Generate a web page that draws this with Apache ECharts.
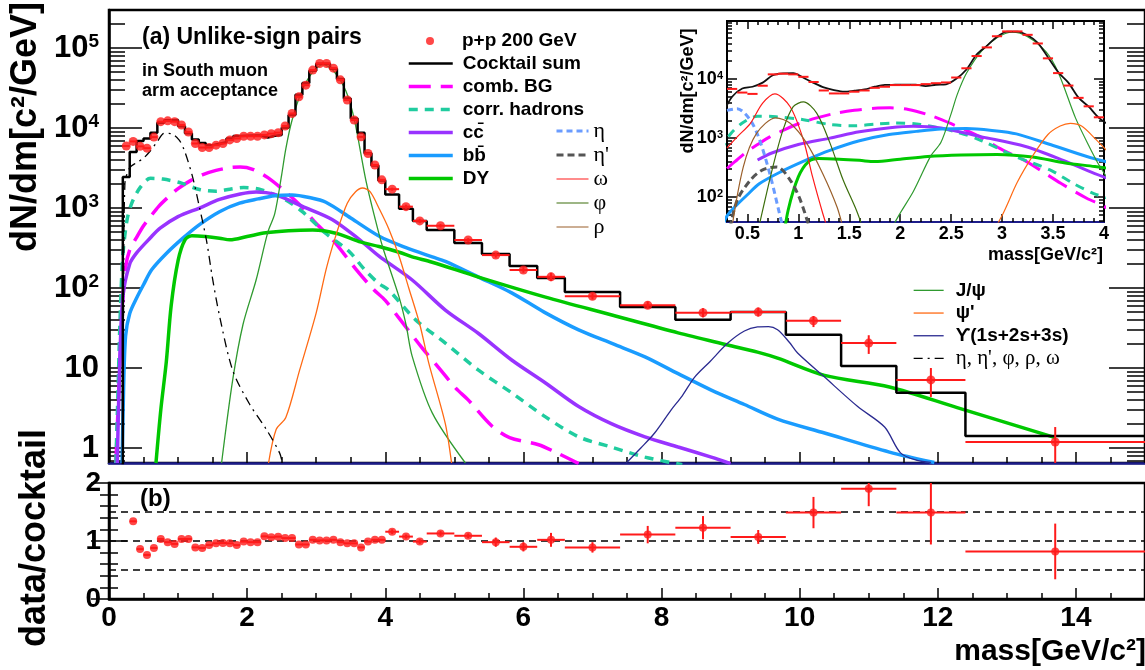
<!DOCTYPE html>
<html>
<head>
<meta charset="utf-8">
<script src="https://cdn.jsdelivr.net/npm/echarts@6/dist/echarts.min.js"></script>
<style>
  html, body { margin: 0; padding: 0; background: #fff; }
  #chart { width: 1145px; height: 670px; }
</style>
</head>
<body>
<div id="chart"></div>
<script>
// ---------------- measured dimuon yield, unlike-sign pairs, p+p 200 GeV ----------------
// mass bin edges [GeV/c^2]
const binEdges = [
  0.2, 0.3, 0.4, 0.5, 0.6, 0.7, 0.8, 0.9, 1.0, 1.1, 1.2, 1.3, 1.4, 1.5, 1.6, 1.7, 1.8, 1.9, 2.0,
  2.1, 2.2, 2.3, 2.4, 2.5, 2.6, 2.7, 2.8, 2.9, 3.0, 3.1, 3.2, 3.3, 3.4, 3.5, 3.6, 3.7, 3.8, 3.9, 4.0,
  4.2, 4.4, 4.6, 5.0, 5.4, 5.8, 6.2, 6.6, 7.4, 8.2, 9.0, 9.8, 10.6, 11.4, 12.4, 15.0
];
// dN/dm of the data, one value per bin
const yieldData = [
  5960, 6800, 5900, 5600, 7700, 12000, 12300, 12000, 10900, 8900,
  6400, 5700, 5700, 6100, 6400, 7100, 7400, 7900, 7900, 7900,
  8200, 8500, 8750, 10600, 15200, 24500, 34300, 53000, 64000, 64000,
  56000, 40000, 22400, 12600, 7750, 4800, 3450, 2250,
  1720, 1040, 690, 600, 398, 258, 168, 138, 79, 61, 49, 50, 39, 20.5, 7.1, 1.19
];
const yieldErrDown = [
  0, 0, 0, 0, 0, 0, 0, 0, 0, 0, 0, 0, 0, 0, 0, 0, 0, 0, 0, 0,
  0, 0, 0, 0, 0, 0, 0, 0, 0, 0, 0, 0, 0, 0, 0, 0, 0, 0,
  70, 60, 45, 30, 22, 18, 13, 16, 7, 6, 6, 6, 6.5, 5.5, 2.75, 1.1
];
const yieldErrUp = [
  0, 0, 0, 0, 0, 0, 0, 0, 0, 0, 0, 0, 0, 0, 0, 0, 0, 0, 0, 0,
  0, 0, 0, 0, 0, 0, 0, 0, 0, 0, 0, 0, 0, 0, 0, 0, 0, 0,
  75, 60, 45, 30, 22, 20, 14, 17, 7, 7, 7, 7, 5.7, 5.2, 2.9, 0.64
];
// cocktail sum per bin
const cocktailSum = [
  2450, 5000, 6900, 7400, 8700, 11600, 12500, 12600, 10500, 8600,
  7200, 6500, 6100, 6350, 6650, 7400, 7950, 8000, 8050, 8050,
  7600, 8000, 8150, 10100, 14500, 26000, 36500, 52000, 63500, 63500,
  55000, 41000, 23300, 13100, 8700, 4850, 3400, 2200,
  1480, 980, 690, 530, 365, 266, 188, 133, 89, 58, 40, 50, 26, 10.6, 4.9, 1.41
];
// data / cocktail per bin
const ratioData = [
  2.43, 1.34, 0.86, 0.76, 0.88, 1.035, 0.98, 0.95, 1.035, 1.035,
  0.89, 0.88, 0.93, 0.96, 0.965, 0.96, 0.93, 0.99, 0.98, 0.98,
  1.08, 1.065, 1.075, 1.05, 1.05, 0.94, 0.94, 1.02, 1.01, 1.01,
  1.02, 0.98, 0.96, 0.96, 0.89, 0.99, 1.02, 1.02,
  1.16, 1.076, 0.99, 1.13, 1.09, 0.98, 0.90, 1.02, 0.89, 1.11, 1.23, 1.07, 1.49, 1.90, 1.49, 0.82
];
const ratioErr = [
  0, 0, 0, 0, 0, 0, 0, 0, 0, 0, 0, 0, 0, 0, 0, 0, 0, 0, 0, 0,
  0, 0, 0, 0, 0, 0, 0, 0, 0, 0, 0, 0, 0, 0, 0, 0, 0, 0,
  0.04, 0.035, 0.04, 0.04, 0.04, 0.08, 0.08, 0.12, 0.09, 0.15, 0.2, 0.12, 0.27, 0.30, 0.55, 0.48
];

// ---------------- cocktail components, [mass, dN/dm] ----------------
const combBG = [[0.1,0.65],[0.13,3],[0.17,20],[0.2,70],[0.24,180],[0.3,300],[0.4,430],[0.5,600],[0.6,780],[0.72,1050],[0.85,1350],[1.0,1750],[1.18,2200],[1.35,2600],[1.55,2950],[1.75,3200],[1.9,3250],[2.08,3050],[2.3,2400],[2.5,1750],[2.76,1100],[3.0,640],[3.24,400],[3.58,170],[3.83,96],[4.0,70],[4.2,42],[4.53,18],[4.8,9.5],[5.02,5.6],[5.2,4],[5.54,1.9],[5.8,1.35],[6.22,1.1],[6.45,0.9],[6.8,0.64]];
const corrHadrons = [[0.1,0.65],[0.13,5],[0.16,40],[0.2,250],[0.26,700],[0.33,1150],[0.45,1800],[0.6,2350],[0.78,2300],[1.05,2050],[1.31,1700],[1.55,1620],[1.75,1720],[1.95,1800],[2.2,1700],[2.56,1260],[2.8,900],[3.14,480],[3.47,290],[3.7,170],[3.9,115],[4.05,94],[4.44,40],[4.87,20.5],[5.35,9.4],[5.83,4.9],[6.32,2.45],[6.8,1.38],[7.27,1.03],[7.76,0.77],[8.3,0.62]];
const ccbar = [[0.12,0.65],[0.15,8],[0.2,77],[0.3,200],[0.4,275],[0.6,425],[0.74,560],[1.0,780],[1.31,1000],[1.6,1280],[1.9,1500],[2.13,1590],[2.4,1480],[2.8,1050],[3.23,720],[3.6,420],[3.91,250],[4.39,126],[4.87,53],[5.35,27],[5.83,12.6],[6.32,6.5],[6.8,3.3],[7.28,2.0],[7.76,1.38],[8.24,1.03],[8.72,0.77],[9.0,0.64]];
const bbbar = [[0.19,0.65],[0.21,5],[0.24,25],[0.3,48],[0.4,75],[0.5,110],[0.62,170],[0.83,270],[1.07,420],[1.31,620],[1.6,900],[1.89,1150],[2.16,1300],[2.4,1420],[2.65,1450],[2.9,1350],[3.14,1180],[3.5,750],[3.92,440],[4.3,320],[4.68,245],[4.87,215],[5.35,137],[5.83,87],[6.3,50],[6.8,30],[7.3,20],[7.76,13.8],[8.24,8.5],[8.72,5.3],[9.2,3.5],[9.68,2.3],[10.36,1.54],[11.3,0.89],[11.95,0.66]];
const drellYan = [[0.68,0.65],[0.75,3],[0.83,12],[0.9,60],[1.0,220],[1.1,400],[1.2,450],[1.4,440],[1.6,420],[1.75,400],[2.0,440],[2.27,490],[2.6,520],[2.95,530],[3.3,480],[3.62,380],[3.91,330],[4.2,280],[4.39,245],[4.68,210],[5.35,137],[6.32,77],[7.28,46],[8.24,27.5],[8.96,19.4],[9.39,15.8],[9.68,13.3],[10.36,8.1],[11.3,5.8],[12.28,3.2],[13.7,1.35]];
const jpsi = [[1.63,0.65],[1.79,7],[1.94,35],[2.13,126],[2.3,500],[2.4,850],[2.5,2600],[2.56,5500],[2.65,12500],[2.8,30000],[2.95,50000],[3.1,62000],[3.25,52000],[3.43,29000],[3.55,13000],[3.72,2200],[3.85,750],[3.96,330],[4.2,77],[4.3,35],[4.39,14],[4.68,2.75],[5.16,0.65]];
const psiPrime = [[2.31,0.65],[2.42,1.7],[2.56,2.4],[2.76,9.4],[3.0,49],[3.15,180],[3.3,500],[3.45,1150],[3.57,1600],[3.67,1780],[3.78,1600],[3.92,950],[4.05,550],[4.2,250],[4.34,100],[4.5,35],[4.63,11.5],[4.87,2.0],[4.96,0.65]];
const upsilon = [[7.49,0.65],[7.7,1.0],[7.9,1.54],[8.14,3.0],[8.3,4.5],[8.48,7.7],[8.7,12],[8.96,20.5],[9.2,29],[9.39,32.6],[9.55,33],[9.68,30],[9.85,21],[9.97,15.4],[10.36,7.7],[10.84,3.3],[11.23,1.83],[11.46,0.87],[11.7,0.7],[11.9,0.66]];
const lightMesons = [[0.2,0.65],[0.21,50],[0.23,2000],[0.3,3200],[0.4,3700],[0.5,4200],[0.6,5200],[0.7,6800],[0.8,8600],[0.9,8500],[1.02,7000],[1.1,5000],[1.21,2450],[1.31,1020],[1.41,400],[1.5,130],[1.6,45],[1.79,9.4],[2.03,3.6],[2.28,1.7],[2.47,0.87],[2.51,0.65]];
// individual light mesons (low-mass view)
const eta = [[0.3,2950],[0.4,3150],[0.53,2000],[0.62,930],[0.72,250],[0.8,68],[0.86,25]];
const etaPrime = [[0.33,30],[0.4,89],[0.53,195],[0.65,290],[0.79,325],[0.92,195],[1.02,89],[1.11,30]];
const omega = [[0.3,680],[0.4,1050],[0.53,1780],[0.65,3900],[0.77,5600],[0.92,3400],[1.05,930],[1.14,220],[1.24,53],[1.3,25]];
const phi = [[0.6,25],[0.75,325],[0.85,1380],[0.95,3400],[1.05,4100],[1.18,2650],[1.31,830],[1.44,195],[1.57,60],[1.65,25]];
const rho = [[0.34,25],[0.46,325],[0.59,1200],[0.78,2200],[0.92,1780],[1.08,830],[1.24,250],[1.38,68],[1.45,25]];

// ---------------- tick labels ----------------
const massTicks = [0, 2, 4, 6, 8, 10, 12, 14];
const insetMassTicks = [0.5, 1, 1.5, 2, 2.5, 3, 3.5, 4];
const yieldDecades = [1, 10, 100, 1000, 10000, 100000];
const insetDecades = [100, 1000, 10000];

// ---------------- styling ----------------
const FONT = "'Liberation Sans', Arial, sans-serif";
const SERIF = "'Liberation Serif', 'DejaVu Serif', serif";
const C = {
  data: '#ff1a1a', comb: '#ff00ff', corr: '#20cc9f', cc: '#9933ff', bb: '#1a9cff',
  dy: '#00c800', jpsi: '#2f9a2f', psip: '#ff6a14', ups: '#2a2a90', navy: '#1c1c8a',
  eta: '#6a9cff', etap: '#555555', omega: '#ff1a1a', phi: '#3c6e0c', rho: '#9a5f2a'
};

// ---------------- derived series data ----------------
const bins = yieldData.map((v, i) => ({ lo: binEdges[i], hi: binEdges[i + 1], c: (binEdges[i] + binEdges[i + 1]) / 2 }));
const dataPoints = bins.map((b, i) => [b.c, yieldData[i]]);
const dataBars = bins.map((b, i) => [b.c, yieldData[i], b.lo, b.hi, yieldErrDown[i], yieldErrUp[i]]);
const ratioPoints = bins.map((b, i) => [b.c, ratioData[i]]);
const ratioBars = bins.map((b, i) => [b.c, ratioData[i], b.lo, b.hi, ratioErr[i], ratioErr[i]]);
const cocktailHist = [[binEdges[0], 0.1]];
bins.forEach((b, i) => { cocktailHist.push([b.lo, cocktailSum[i]], [b.hi, cocktailSum[i]]); });
const cocktailCurve = bins.map((b, i) => [b.c, cocktailSum[i]]);

// tick position helpers
function logMinors(e0, e1, lo, hi) {
  const out = [];
  for (let e = e0; e <= e1; e++) for (let m = 2; m <= 9; m++) {
    const v = m * Math.pow(10, e);
    if (v >= lo && v <= hi) out.push(v);
  }
  return out;
}
function linMinors(lo, hi, step, skipEvery) {
  const out = [];
  const n0 = Math.ceil(lo / step - 1e-9), n1 = Math.floor(hi / step + 1e-9);
  for (let k = n0; k <= n1; k++) {
    const v = +(k * step).toFixed(6);
    if (Math.abs(v / skipEvery - Math.round(v / skipEvery)) > 1e-6) out.push(v);
  }
  return out;
}

const Y_MIN = 0.65, Y_MAX = 298500;
const IY_MIN = 38, IY_MAX = 96000;
const mainMinorY = logMinors(-1, 5, Y_MIN, Y_MAX);
const insetMinorY = logMinors(1, 4, IY_MIN, IY_MAX);
const mainMinorX = linMinors(0, 15, 0.5, 2);
const insetMinorX = linMinors(0.3, 4, 0.1, 0.5);

function powLabel(v) {
  const e = Math.round(Math.log10(v));
  if (e === 0) return '{b|1}';
  if (e === 1) return '{b|10}';
  return '{b|10}{s|' + e + '}';
}
function powRich(big, small) {
  return {
    b: { fontSize: big, fontWeight: 'bold', fontFamily: FONT, color: '#000' },
    s: { fontSize: small, fontWeight: 'bold', fontFamily: FONT, color: '#000', verticalAlign: 'top' }
  };
}

const tickLine = (w) => ({ color: '#000', width: w });

function xAxisCfg(grid, min, max, values, len, opts) {
  return Object.assign({
    type: 'value', gridIndex: grid, min, max, position: 'bottom',
    splitLine: { show: false },
    axisLine: { show: false },
    axisTick: { show: true, inside: true, length: len, customValues: values, lineStyle: tickLine(1.5) },
    axisLabel: { show: false }
  }, opts || {});
}
function yAxisCfg(grid, type, min, max, pos, values, len, opts) {
  return Object.assign({
    type, gridIndex: grid, min, max, position: pos,
    splitLine: { show: false },
    axisLine: { show: false },
    axisTick: { show: true, inside: true, length: len, customValues: values, lineStyle: tickLine(1.5) },
    axisLabel: { show: false }
  }, opts || {});
}

// error bars drawn through the axes
function renderBars(params, api) {
  const x = api.value(0), y = api.value(1);
  const lo = api.value(2), hi = api.value(3), dn = api.value(4), up = api.value(5);
  const style = { stroke: C.data, lineWidth: 2 };
  const a = api.coord([lo, y]), b = api.coord([hi, y]);
  const children = [{ type: 'line', shape: { x1: a[0], y1: a[1], x2: b[0], y2: b[1] }, style }];
  if (dn > 0 || up > 0) {
    const d = api.coord([x, Math.max(y - dn, 1e-3)]), u = api.coord([x, y + up]);
    children.push({ type: 'line', shape: { x1: d[0], y1: d[1], x2: u[0], y2: u[1] }, style });
  }
  return { type: 'group', children };
}

function curve(name, pts, color, width, type, xi, yi, extra) {
  return Object.assign({
    type: 'line', name, data: pts, xAxisIndex: xi, yAxisIndex: yi,
    symbol: 'none', smooth: 0.3, clip: true, silent: true, z: 3,
    lineStyle: { color, width, type: type || 'solid' }, itemStyle: { color }
  }, extra || {});
}

const COMB_DASH = [22, 10], CORR_DASH = [9, 7], DASHDOT = [9, 5, 2, 5];

const series = [
  // ---- main panel ----
  { type: 'scatter', name: 'p+p 200 GeV', data: dataPoints, xAxisIndex: 0, yAxisIndex: 0,
    symbol: 'circle', symbolSize: 9, itemStyle: { color: C.data }, z: 6, silent: true },
  { type: 'line', name: 'Cocktail sum', data: cocktailHist, xAxisIndex: 0, yAxisIndex: 0,
    symbol: 'none', clip: true, silent: true, z: 4, lineStyle: { color: '#000', width: 2.5 }, itemStyle: { color: '#000' } },
  curve('comb. BG', combBG, C.comb, 3.5, COMB_DASH, 0, 0),
  curve('corr. hadrons', corrHadrons, C.corr, 3.5, CORR_DASH, 0, 0),
  curve('cc\u0304', ccbar, C.cc, 3.5, 'solid', 0, 0),
  curve('bb\u0304', bbbar, C.bb, 3.5, 'solid', 0, 0),
  curve('DY', drellYan, C.dy, 3.5, 'solid', 0, 0),
  curve('J/\u03c8', jpsi, C.jpsi, 1.3, 'solid', 0, 0),
  curve("\u03c8'", psiPrime, C.psip, 1.3, 'solid', 0, 0),
  curve('\u03d2(1s+2s+3s)', upsilon, C.ups, 1.3, 'solid', 0, 0),
  curve("\u03b7, \u03b7', \u03c6, \u03c1, \u03c9", lightMesons, '#000', 1.3, DASHDOT, 0, 0),
  { type: 'custom', name: 'yield errors', data: dataBars, xAxisIndex: 0, yAxisIndex: 0,
    renderItem: renderBars, clip: true, silent: true, z: 5, encode: { x: 0, y: 1 } },

  // ---- ratio panel ----
  { type: 'scatter', name: 'ratio', data: ratioPoints, xAxisIndex: 2, yAxisIndex: 4,
    symbol: 'circle', symbolSize: 8, itemStyle: { color: C.data }, z: 6, silent: true, clip: true,
    markLine: { silent: true, symbol: 'none', label: { show: false }, animation: false,
      lineStyle: { color: '#000', type: [7, 5], width: 1.5 },
      data: [{ yAxis: 0.5 }, { yAxis: 1 }, { yAxis: 1.5 }] } },
  { type: 'custom', name: 'ratio errors', data: ratioBars, xAxisIndex: 2, yAxisIndex: 4,
    renderItem: renderBars, clip: true, silent: true, z: 5, encode: { x: 0, y: 1 } },

  // ---- low-mass inset ----
  curve('comb. BG', combBG, C.comb, 3, COMB_DASH, 4, 6),
  curve('corr. hadrons', corrHadrons, C.corr, 3, CORR_DASH, 4, 6),
  curve('cc\u0304', ccbar.filter(p => p[0] >= 0.6), C.cc, 3, 'solid', 4, 6),
  curve('bb\u0304', bbbar, C.bb, 3, 'solid', 4, 6),
  curve('DY', drellYan, C.dy, 3, 'solid', 4, 6),
  curve('J/\u03c8', jpsi, C.jpsi, 1.2, 'solid', 4, 6),
  curve("\u03c8'", psiPrime, C.psip, 1.2, 'solid', 4, 6),
  curve('\u03b7', eta, C.eta, 3, [6, 4], 4, 6),
  curve("\u03b7'", etaPrime, C.etap, 3, [7, 4], 4, 6),
  curve('\u03c9', omega, C.omega, 1.2, 'solid', 4, 6),
  curve('\u03c6', phi, C.phi, 1.2, 'solid', 4, 6),
  curve('\u03c1', rho, C.rho, 1.2, 'solid', 4, 6),
  curve('Cocktail sum', cocktailCurve, '#111', 1.8, 'solid', 4, 6, { z: 4 }),
  { type: 'custom', name: 'inset data', data: dataBars, xAxisIndex: 4, yAxisIndex: 6,
    renderItem: renderBars, clip: true, silent: true, z: 5, encode: { x: 0, y: 1 } }
];

const legendText = { color: '#000', fontFamily: FONT, fontWeight: 'bold', fontSize: 19 };
// line samples only: hide the marker that line series add to legend icons
const lineOnly = { opacity: 0, color: 'rgba(0,0,0,0)', borderWidth: 0 };
const seriesLine = { width: 'inherit', type: 'inherit', color: 'inherit' };

const option = {
  animation: false,
  backgroundColor: '#fff',
  grid: [
    { left: 109, top: 10, width: 1040, height: 453, show: true, borderColor: '#000', borderWidth: 2.5, backgroundColor: 'transparent' },
    { left: 109, top: 483, width: 1040, height: 116, show: true, borderColor: '#000', borderWidth: 2.5, backgroundColor: 'transparent' },
    { left: 727, top: 21, width: 377, height: 201, show: true, borderColor: '#000', borderWidth: 2, backgroundColor: '#fff' }
  ],
  xAxis: [
    xAxisCfg(0, 0, 15, massTicks, 11, { axisLine: { show: true, lineStyle: { color: C.navy, width: 2.5 } } }),
    xAxisCfg(0, 0, 15, mainMinorX, 6),
    xAxisCfg(1, 0, 15, massTicks, 11, {
      axisLine: { show: true, lineStyle: { color: '#000', width: 2.5 } },
      axisLabel: { show: true, customValues: massTicks, margin: 5, color: '#000', fontFamily: FONT, fontWeight: 'bold', fontSize: 28 }
    }),
    xAxisCfg(1, 0, 15, mainMinorX, 6),
    xAxisCfg(2, 0.3, 4, insetMassTicks, 8, {
      axisLine: { show: true, lineStyle: { color: C.navy, width: 2 } },
      axisLabel: { show: true, customValues: insetMassTicks, margin: 3, color: '#000', fontFamily: FONT, fontWeight: 'bold', fontSize: 18 }
    }),
    xAxisCfg(2, 0.3, 4, insetMinorX, 4),
    xAxisCfg(2, 0.3, 4, insetMassTicks, 8, { position: 'top' }),
    xAxisCfg(2, 0.3, 4, insetMinorX, 4, { position: 'top' })
  ],
  yAxis: [
    yAxisCfg(0, 'log', Y_MIN, Y_MAX, 'left', yieldDecades, 33, {
      axisLine: { show: true, lineStyle: { color: '#000', width: 2.5 } },
      axisLabel: { show: true, customValues: yieldDecades, formatter: powLabel, rich: powRich(31, 19), margin: 10 }
    }),
    yAxisCfg(0, 'log', Y_MIN, Y_MAX, 'left', mainMinorY, 16),
    yAxisCfg(0, 'log', Y_MIN, Y_MAX, 'right', yieldDecades, 36),
    yAxisCfg(0, 'log', Y_MIN, Y_MAX, 'right', mainMinorY, 18),
    {
      type: 'value', gridIndex: 1, min: 0, max: 2, interval: 1, position: 'left',
      splitLine: { show: false },
      axisLine: { show: true, lineStyle: { color: '#000', width: 2.5 } },
      axisTick: { inside: true, length: 18, lineStyle: tickLine(1.5) },
      minorTick: { show: true, splitNumber: 5, length: 9, lineStyle: tickLine(1.5) },
      axisLabel: { margin: 8, color: '#000', fontFamily: FONT, fontWeight: 'bold', fontSize: 28 }
    },
    {
      type: 'value', gridIndex: 1, min: 0, max: 2, interval: 1, position: 'right',
      splitLine: { show: false }, axisLine: { show: false },
      axisTick: { inside: true, length: 18, lineStyle: tickLine(1.5) },
      minorTick: { show: true, splitNumber: 5, length: 9, lineStyle: tickLine(1.5) },
      axisLabel: { show: false }
    },
    yAxisCfg(2, 'log', IY_MIN, IY_MAX, 'left', insetDecades, 10, {
      axisLabel: { show: true, customValues: insetDecades, formatter: powLabel, rich: powRich(18, 11), margin: 4 }
    }),
    yAxisCfg(2, 'log', IY_MIN, IY_MAX, 'left', insetMinorY, 5),
    yAxisCfg(2, 'log', IY_MIN, IY_MAX, 'right', insetDecades, 10),
    yAxisCfg(2, 'log', IY_MIN, IY_MAX, 'right', insetMinorY, 5)
  ],
  legend: [
    { data: [{ name: 'p+p 200 GeV', icon: 'circle' }], left: 426, top: 30, orient: 'vertical', padding: 0,
      itemWidth: 44, itemHeight: 8, selectedMode: false,
      textStyle: Object.assign({ lineHeight: 22, padding: [0, 0, 0, 5] }, legendText) },
    { data: ['Cocktail sum', 'comb. BG', 'corr. hadrons', 'cc\u0304', 'bb\u0304', 'DY'],
      left: 407, top: 52, orient: 'vertical', padding: 0, itemGap: 0,
      itemWidth: 44, itemHeight: 12, selectedMode: false, itemStyle: lineOnly, lineStyle: seriesLine,
      textStyle: Object.assign({ lineHeight: 23, padding: [0, 0, 0, 5] }, legendText) },
    { data: ['\u03b7', "\u03b7'", '\u03c9', '\u03c6', '\u03c1'],
      left: 555, top: 119, orient: 'vertical', padding: 0, itemGap: 0,
      itemWidth: 32, itemHeight: 12, selectedMode: false, itemStyle: lineOnly, lineStyle: seriesLine,
      textStyle: { color: '#000', fontFamily: SERIF, fontSize: 22, lineHeight: 24 } },
    { data: ['J/\u03c8', "\u03c8'", '\u03d2(1s+2s+3s)', "\u03b7, \u03b7', \u03c6, \u03c1, \u03c9"],
      left: 913, top: 279, orient: 'vertical', padding: 0, itemGap: 0,
      itemWidth: 30, itemHeight: 12, selectedMode: false, itemStyle: lineOnly, lineStyle: seriesLine,
      formatter: name => name.indexOf('\u03b7') === 0 ? '{g|' + name + '}' : name,
      textStyle: Object.assign({ lineHeight: 22.7, padding: [0, 0, 0, 7],
        rich: { g: { fontFamily: SERIF, fontWeight: 'normal', fontSize: 21, color: '#000' } } }, legendText) }
  ],
  graphic: [
    { type: 'text', x: 142, y: 38, silent: true,
      style: { text: '(a) Unlike-sign pairs', font: 'bold 23px ' + FONT, fill: '#000', verticalAlign: 'middle', textVerticalAlign: 'middle' } },
    { type: 'text', x: 142, y: 71, silent: true,
      style: { text: 'in South muon', font: 'bold 18px ' + FONT, fill: '#000', verticalAlign: 'middle', textVerticalAlign: 'middle' } },
    { type: 'text', x: 142, y: 91, silent: true,
      style: { text: 'arm acceptance', font: 'bold 18px ' + FONT, fill: '#000', verticalAlign: 'middle', textVerticalAlign: 'middle' } },
    { type: 'text', x: 140, y: 499, silent: true,
      style: { text: '(b)', font: 'bold 24px ' + FONT, fill: '#000', verticalAlign: 'middle', textVerticalAlign: 'middle' } },
    { type: 'text', x: 26, y: 127, rotation: Math.PI / 2, silent: true,
      style: { text: 'dN/dm[c\u00b2/GeV]', font: 'bold 36px ' + FONT, fill: '#000',
        align: 'center', textAlign: 'center', verticalAlign: 'middle', textVerticalAlign: 'middle' } },
    { type: 'text', x: 35, y: 538, rotation: Math.PI / 2, silent: true,
      style: { text: 'data/cocktail', font: 'bold 36px ' + FONT, fill: '#000',
        align: 'center', textAlign: 'center', verticalAlign: 'middle', textVerticalAlign: 'middle' } },
    { type: 'text', x: 1146, y: 652, silent: true,
      style: { text: 'mass[GeV/c\u00b2]', font: 'bold 30px ' + FONT, fill: '#000',
        align: 'right', textAlign: 'right', verticalAlign: 'middle', textVerticalAlign: 'middle' } },
    { type: 'text', x: 688, y: 91, rotation: Math.PI / 2, silent: true,
      style: { text: 'dN/dm[c\u00b2/GeV]', font: 'bold 18px ' + FONT, fill: '#000',
        align: 'center', textAlign: 'center', verticalAlign: 'middle', textVerticalAlign: 'middle' } },
    { type: 'text', x: 1103, y: 255, silent: true,
      style: { text: 'mass[GeV/c\u00b2]', font: 'bold 18px ' + FONT, fill: '#000',
        align: 'right', textAlign: 'right', verticalAlign: 'middle', textVerticalAlign: 'middle' } }
  ],
  series
};

const chart = echarts.init(document.getElementById('chart'), null, { renderer: 'canvas' });
chart.setOption(option);
</script>
</body>
</html>
